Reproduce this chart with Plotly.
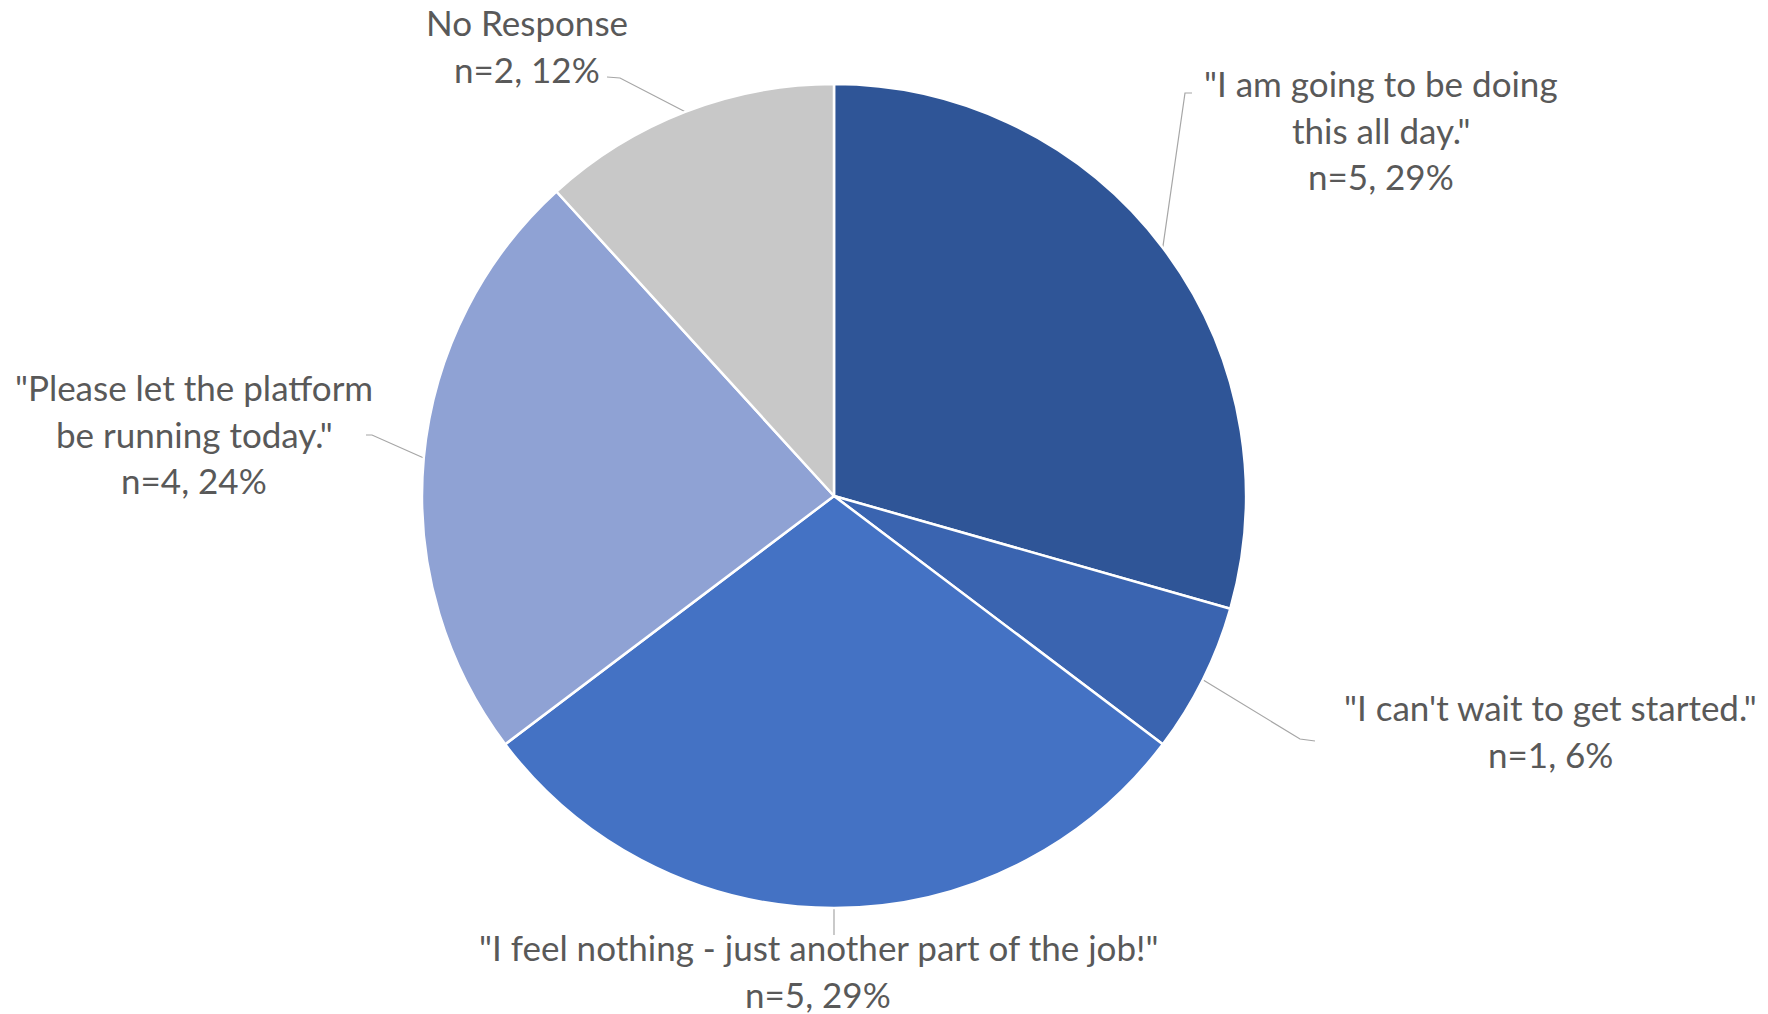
import math
import plotly.graph_objects as go

# ---- data ----
categories = [
    '"I am going to be doing this all day."',
    '"I can\'t wait to get started."',
    '"I feel nothing - just another part of the job!"',
    '"Please let the platform be running today."',
    'No Response',
]
counts = [5, 1, 5, 4, 2]
percents = ["29%", "6%", "29%", "24%", "12%"]
label_lines = [
    ['"I am going to be doing', 'this all day."'],
    ['"I can\'t wait to get started."'],
    ['"I feel nothing - just another part of the job!"'],
    ['"Please let the platform', 'be running today."'],
    ['No Response'],
]
colors = ["#2F5597", "#3A64B0", "#4472C4", "#8FA2D4", "#C8C8C8"]

W, H = 1768, 1014
CX, CY, R = 834, 496, 412

# label layout (pixel positions of label text centres, first line y)
label_pos = [(1381, 83), (1550, 707), (818, 947), (194, 387), (527, 22)]
# outer leader path points after leaving the pie edge
leader_out = [
    [(1185, 93), (1192, 93)],
    [(1300, 739), (1315, 741)],
    [(834, 935)],
    [(372, 435), (366, 435)],
    [(620, 78), (607, 77)],
]
LINE_H = 46.5

fig = go.Figure()
fig.add_trace(go.Pie(
    labels=categories, values=counts, sort=False, direction="clockwise",
    rotation=0, textinfo="none", hoverinfo="label+value+percent",
    marker=dict(colors=colors, line=dict(color="white", width=2.5)),
    domain=dict(x=[(CX - R) / W, (CX + R) / W],
                y=[(H - CY - R) / H, (H - CY + R) / H]),
    showlegend=False,
))

total = sum(counts)
cum = 0
annotations = []
for i, c in enumerate(counts):
    mid = (cum + c / 2) / total * 2 * math.pi
    cum += c
    px = CX + R * math.sin(mid)
    py = CY - R * math.cos(mid)
    pts = [(px, py)] + leader_out[i]
    fig.add_trace(go.Scatter(
        x=[p[0] for p in pts], y=[p[1] for p in pts], mode="lines",
        line=dict(color="#A6A6A6", width=1.2), hoverinfo="skip",
        showlegend=False, xaxis="x", yaxis="y"))
    lines = label_lines[i] + [f"n={c}, {percents[i]}"]
    lx, ly = label_pos[i]
    for j, t in enumerate(lines):
        annotations.append(dict(
            x=lx, y=ly + j * LINE_H, xref="x", yref="y", text=t,
            showarrow=False, xanchor="center", yanchor="middle",
            font=dict(family="Lato", size=35, color="#595959")))

fig.update_layout(
    width=W, height=H, margin=dict(l=0, r=0, t=0, b=0),
    paper_bgcolor="white", plot_bgcolor="rgba(0,0,0,0)",
    xaxis=dict(range=[0, W], visible=False, domain=[0, 1], fixedrange=True),
    yaxis=dict(range=[H, 0], visible=False, domain=[0, 1], fixedrange=True),
    annotations=annotations,
)
fig.write_html("out.html")
